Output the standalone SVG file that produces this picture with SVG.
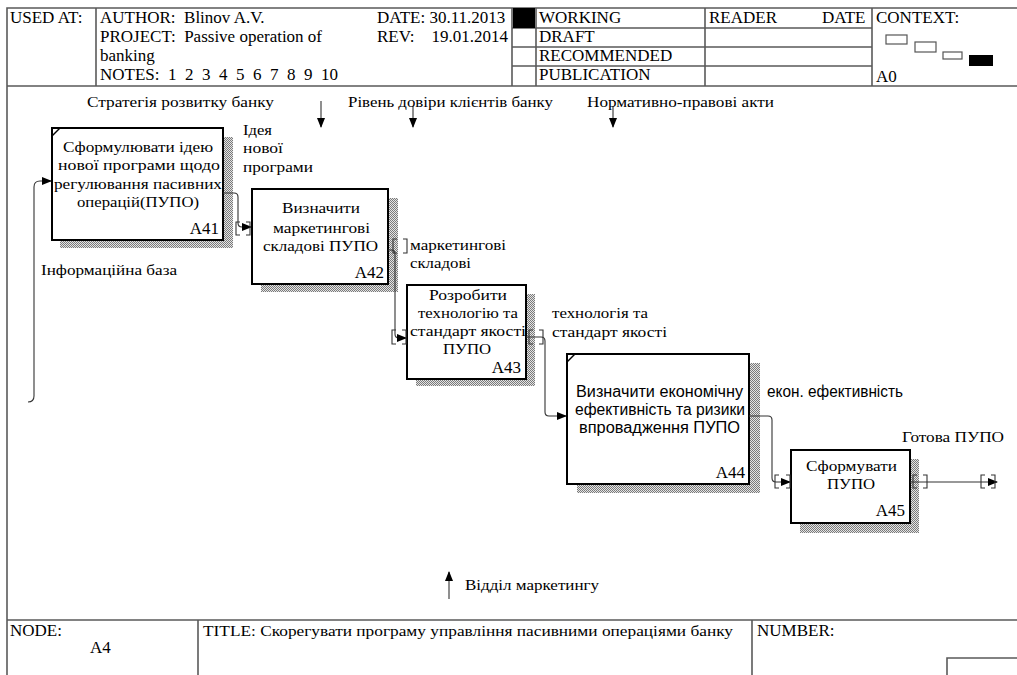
<svg xmlns="http://www.w3.org/2000/svg" width="1017" height="675" viewBox="0 0 1017 675">
<defs>
<pattern id="hatch" width="2" height="2" patternUnits="userSpaceOnUse"><rect width="2" height="2" fill="#e4e4e4"/><rect width="1" height="1" fill="#7a7a7a"/><rect x="1" y="1" width="1" height="1" fill="#7a7a7a"/></pattern>
<marker id="ah" markerWidth="10" markerHeight="8" refX="9" refY="4" orient="auto" markerUnits="userSpaceOnUse"><path d="M0,0 L10,4 L0,8 Z" fill="#000"/></marker>
</defs>
<style>
.fr{stroke:#5a5a5a;stroke-width:1.6;fill:none}
.t{font-family:"Liberation Serif","Times New Roman",serif;font-size:17px;fill:#000}
.cy{font-family:"Liberation Serif","DejaVu Serif",serif;font-size:15px;fill:#000}
.ti{font-family:"Liberation Serif","DejaVu Serif",serif;font-size:14px;fill:#000}
.s{font-family:"Liberation Sans",Arial,sans-serif;font-size:16px;fill:#000}
.id{font-family:"Liberation Serif","Times New Roman",serif;font-size:17px;fill:#000;text-anchor:end}
.box{fill:#fff;stroke:#000;stroke-width:2}
.sh{fill:url(#hatch)}
.c{fill:none;stroke:#333;stroke-width:1.1}
.br{fill:none;stroke:#333;stroke-width:1.1}
</style>
<rect width="1017" height="675" fill="#fff"/>
<g id="frame">
<path class="fr" d="M7,675 V8 H1017 M7,86 H1017 M96,8 V86 M512,8 V86 M536,8 V86 M705,8 V86 M872,8 V86 M512,28 H872 M512,47 H872 M512,66 H872 M7,620 H1017 M198,620 V675 M752,620 V675 M947,675 V658 H1017"/>
<rect x="513" y="8" width="22" height="20" fill="#000"/>
<rect x="886" y="35" width="21" height="9" fill="none" stroke="#555" stroke-width="1.2"/>
<rect x="915" y="42" width="21" height="10" fill="none" stroke="#555" stroke-width="1.2"/>
<rect x="943" y="52" width="19" height="7" fill="none" stroke="#555" stroke-width="1.2"/>
<rect x="969" y="55" width="24" height="11" fill="#000"/>
<text class="t" x="10" y="23">USED AT:</text>
<text class="t" x="100" y="23" xml:space="preserve">AUTHOR:  Blinov A.V.</text>
<text class="t" x="100" y="42" xml:space="preserve">PROJECT:  Passive operation of</text>
<text class="t" x="100" y="61">banking</text>
<text class="t" x="100" y="80" xml:space="preserve">NOTES:  1  2  3  4  5  6  7  8  9  10</text>
<text class="t" x="377" y="23">DATE: 30.11.2013</text>
<text class="t" x="377" y="42" xml:space="preserve">REV:    19.01.2014</text>
<text class="t" x="539" y="23">WORKING</text>
<text class="t" x="539" y="42">DRAFT</text>
<text class="t" x="539" y="61">RECOMMENDED</text>
<text class="t" x="539" y="80">PUBLICATION</text>
<text class="t" x="709" y="23">READER</text>
<text class="t" x="822" y="23">DATE</text>
<text class="t" x="876" y="23">CONTEXT:</text>
<text class="t" x="876" y="82">A0</text>
<text class="t" x="10" y="636">NODE:</text>
<text class="t" x="90" y="653">A4</text>
<text class="ti" x="203" y="636" textLength="530" lengthAdjust="spacingAndGlyphs">TITLE: Скорегувати програму управління пасивними операціями банку</text>
<text class="t" x="757" y="636">NUMBER:</text>
</g>
<g id="A41">
<rect class="sh" x="60" y="137" width="173" height="111"/>
<rect class="box" x="52" y="128" width="171" height="112"/>
<path d="M52,136 L60,128" stroke="#000" stroke-width="1.5"/>
<text class="cy" x="63" y="152" textLength="150" lengthAdjust="spacingAndGlyphs">Сформулювати ідею</text>
<text class="cy" x="58" y="170" textLength="162" lengthAdjust="spacingAndGlyphs">нової програми щодо</text>
<text class="cy" x="54" y="189" textLength="168" lengthAdjust="spacingAndGlyphs">регулювання пасивних</text>
<text class="cy" x="77" y="207" textLength="122" lengthAdjust="spacingAndGlyphs">операцій(ПУПО)</text>
<text class="id" x="219" y="234">A41</text>
</g>
<g id="A42">
<rect class="sh" x="261" y="198" width="137" height="94"/>
<rect class="box" x="252" y="189" width="136" height="95"/>
<text class="cy" x="282" y="213" textLength="78" lengthAdjust="spacingAndGlyphs">Визначити</text>
<text class="cy" x="273" y="233" textLength="97" lengthAdjust="spacingAndGlyphs">маркетингові</text>
<text class="cy" x="263" y="251" textLength="115" lengthAdjust="spacingAndGlyphs">складові ПУПО</text>
<text class="id" x="384" y="278">A42</text>
</g>
<g id="A43">
<rect class="sh" x="416" y="294" width="119" height="92"/>
<rect class="box" x="407" y="285" width="119" height="94"/>
<text class="cy" x="429" y="300" textLength="78" lengthAdjust="spacingAndGlyphs">Розробити</text>
<text class="cy" x="418" y="318" textLength="100" lengthAdjust="spacingAndGlyphs">технологію та</text>
<text class="cy" x="410" y="336" textLength="116" lengthAdjust="spacingAndGlyphs">стандарт якості</text>
<text class="cy" x="443" y="354" textLength="48" lengthAdjust="spacingAndGlyphs">ПУПО</text>
<text class="id" x="521" y="373">A43</text>
</g>
<g id="A44">
<rect class="sh" x="577" y="363" width="183" height="130"/>
<rect class="box" x="567" y="354" width="182" height="130"/>
<path d="M567,362 L575,354" stroke="#000" stroke-width="1.5"/>
<text class="s" x="576" y="397" textLength="167" lengthAdjust="spacingAndGlyphs">Визначити економічну</text>
<text class="s" x="575" y="415" textLength="170" lengthAdjust="spacingAndGlyphs">ефективність та ризики</text>
<text class="s" x="579" y="433" textLength="161" lengthAdjust="spacingAndGlyphs">впровадження ПУПО</text>
<text class="id" x="745" y="478">A44</text>
</g>
<g id="A45">
<rect class="sh" x="800" y="459" width="119" height="74"/>
<rect class="box" x="791" y="450" width="119" height="73"/>
<text class="cy" x="806" y="471" textLength="91" lengthAdjust="spacingAndGlyphs">Сформувати</text>
<text class="cy" x="827" y="489" textLength="48" lengthAdjust="spacingAndGlyphs">ПУПО</text>
<text class="id" x="905" y="516">A45</text>
</g>
<g id="connectors">
<path class="c" d="M321,101 V127" marker-end="url(#ah)"/>
<path class="c" d="M413,106 V127" marker-end="url(#ah)"/>
<path class="c" d="M613,106 V127" marker-end="url(#ah)"/>
<path class="c" d="M449,599 V572" marker-end="url(#ah)"/>
<path class="c" d="M28,402 Q34,402 34,396 V187 Q34,181 40,181 H51" marker-end="url(#ah)"/>
<path class="c" d="M223,193 H234 Q238,193 238,197 V223 Q238,227 242,227 H251" marker-end="url(#ah)"/>
<path class="c" d="M388,250 H391 Q395,250 395,254 V334 Q395,338 399,338 H406" marker-end="url(#ah)"/>
<path class="c" d="M526,337 H541 Q545,337 545,341 V412 Q545,416 549,416 H566" marker-end="url(#ah)"/>
<path class="c" d="M749,416 H768 Q772,416 772,420 V478 Q772,482 776,482 H790" marker-end="url(#ah)"/>
<path class="c" d="M910,482 H997" marker-end="url(#ah)"/>
<path class="br" d="M240,222 H236 V235 H240 M246,222 H250 V235 H246"/>
<path class="br" d="M397,239 H393 V253 H397 M403,239 H407 V253 H403"/>
<path class="br" d="M396,330 H392 V344 H396 M402,330 H406 V344 H402"/>
<path class="br" d="M533,330 H529 V344 H533 M539,330 H543 V344 H539"/>
<path class="br" d="M779,475 H775 V488 H779 M786,475 H790 V488 H786"/>
<path class="br" d="M917,475 H913 V488 H917 M923,475 H927 V488 H923"/>
<path class="br" d="M985,475 H981 V488 H985 M991,475 H995 V488 H991"/>
<text class="cy" x="87" y="107" textLength="187" lengthAdjust="spacingAndGlyphs">Стратегія розвитку банку</text>
<text class="cy" x="348" y="107" textLength="205" lengthAdjust="spacingAndGlyphs">Рівень довіри клієнтів банку</text>
<text class="cy" x="587" y="107" textLength="187" lengthAdjust="spacingAndGlyphs">Нормативно-правові акти</text>
<text class="cy" x="243" y="135" textLength="29" lengthAdjust="spacingAndGlyphs">Ідея</text>
<text class="cy" x="243" y="153" textLength="40" lengthAdjust="spacingAndGlyphs">нової</text>
<text class="cy" x="243" y="172" textLength="70" lengthAdjust="spacingAndGlyphs">програми</text>
<text class="cy" x="41" y="275" textLength="136" lengthAdjust="spacingAndGlyphs">Інформаційна база</text>
<text class="cy" x="410" y="250" textLength="96" lengthAdjust="spacingAndGlyphs">маркетингові</text>
<text class="cy" x="410" y="268" textLength="61" lengthAdjust="spacingAndGlyphs">складові</text>
<text class="cy" x="552" y="318" textLength="96" lengthAdjust="spacingAndGlyphs">технологія та</text>
<text class="cy" x="552" y="337" textLength="115" lengthAdjust="spacingAndGlyphs">стандарт якості</text>
<text class="s" x="767" y="397" textLength="136" lengthAdjust="spacingAndGlyphs">екон. ефективність</text>
<text class="cy" x="902" y="442" textLength="102" lengthAdjust="spacingAndGlyphs">Готова ПУПО</text>
<text class="cy" x="465" y="590" textLength="134" lengthAdjust="spacingAndGlyphs">Відділ маркетингу</text>
</g>
</svg>
